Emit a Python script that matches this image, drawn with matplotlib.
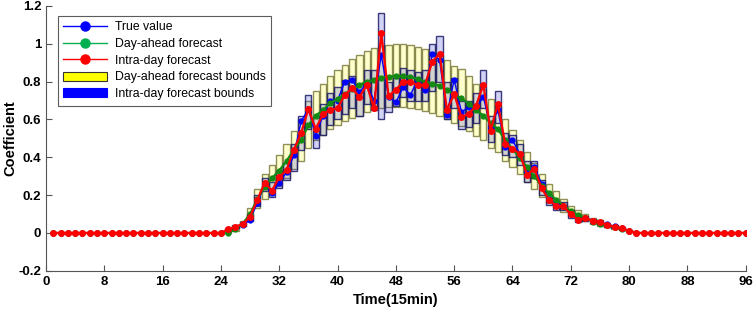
import numpy as np
import matplotlib
matplotlib.use("Agg")
import matplotlib.pyplot as plt
from matplotlib.lines import Line2D
from matplotlib.patches import Patch

plt.rcParams['font.family'] = ['Liberation Sans', 'DejaVu Sans']

time = np.arange(1, 97)
zeros_before = [0.0] * 24
zeros_after = [0.0] * 15

# index 25..81
true_mid = [0.01, 0.025, 0.04, 0.07, 0.16, 0.25, 0.21, 0.265, 0.32, 0.41,
            0.59, 0.655, 0.515, 0.62, 0.70, 0.70, 0.80, 0.81, 0.745, 0.79,
            0.70, 0.94, 0.72, 0.69, 0.77, 0.73, 0.81, 0.755, 0.945, 0.915,
            0.625, 0.81, 0.64, 0.665, 0.66, 0.72, 0.56, 0.65, 0.455, 0.49,
            0.42, 0.33, 0.35, 0.26, 0.18, 0.15, 0.14, 0.10, 0.075, 0.08,
            0.065, 0.055, 0.045, 0.035, 0.025, 0.012, 0.0]
dayahead_mid = [0.0, 0.02, 0.05, 0.10, 0.18, 0.245, 0.29, 0.33, 0.38, 0.44,
                0.49, 0.57, 0.62, 0.65, 0.686, 0.71, 0.734, 0.76, 0.783, 0.80,
                0.81, 0.82, 0.827, 0.83, 0.83, 0.824, 0.815, 0.80, 0.79, 0.778,
                0.757, 0.73, 0.713, 0.683, 0.65, 0.62, 0.58, 0.55, 0.49, 0.445,
                0.395, 0.348, 0.30, 0.25, 0.21, 0.175, 0.145, 0.115, 0.095, 0.08,
                0.06, 0.05, 0.04, 0.03, 0.02, 0.01, 0.0]
intraday_mid = [0.02, 0.033, 0.048, 0.086, 0.175, 0.266, 0.224, 0.295, 0.333, 0.44,
                0.527, 0.655, 0.55, 0.628, 0.65, 0.66, 0.73, 0.766, 0.718, 0.783,
                0.66, 1.057, 0.725, 0.757, 0.80, 0.80, 0.78, 0.783, 0.906, 0.947,
                0.65, 0.735, 0.612, 0.63, 0.672, 0.783, 0.541, 0.683, 0.47, 0.445,
                0.42, 0.307, 0.34, 0.236, 0.175, 0.143, 0.14, 0.10, 0.07, 0.078,
                0.065, 0.06, 0.042, 0.033, 0.025, 0.012, 0.0]
da_upper_mid = [0.005, 0.03, 0.065, 0.13, 0.23, 0.31, 0.36, 0.41, 0.47, 0.54,
                0.60, 0.70, 0.75, 0.79, 0.83, 0.86, 0.89, 0.92, 0.94, 0.96,
                0.975, 0.99, 0.995, 1.0, 1.0, 0.995, 0.985, 0.97, 0.955, 0.94,
                0.915, 0.885, 0.865, 0.83, 0.79, 0.76, 0.71, 0.67, 0.60, 0.545,
                0.49, 0.43, 0.37, 0.31, 0.26, 0.22, 0.18, 0.145, 0.12, 0.10,
                0.077, 0.064, 0.052, 0.04, 0.027, 0.014, 0.002]
da_lower_mid = [0.0, 0.012, 0.035, 0.07, 0.13, 0.18, 0.22, 0.25, 0.29, 0.34,
                0.38, 0.45, 0.49, 0.52, 0.55, 0.57, 0.59, 0.61, 0.62, 0.64,
                0.65, 0.66, 0.665, 0.665, 0.665, 0.66, 0.655, 0.645, 0.635, 0.62,
                0.60, 0.58, 0.565, 0.54, 0.51, 0.49, 0.45, 0.43, 0.38, 0.35,
                0.31, 0.27, 0.23, 0.19, 0.16, 0.135, 0.11, 0.09, 0.073, 0.062,
                0.046, 0.038, 0.03, 0.022, 0.014, 0.006, 0.0]
id_upper_mid = [0.025, 0.04, 0.06, 0.10, 0.20, 0.29, 0.27, 0.33, 0.37, 0.47,
                0.62, 0.73, 0.62, 0.68, 0.74, 0.77, 0.81, 0.83, 0.79, 0.86,
                0.86, 1.16, 0.80, 0.82, 0.87, 0.86, 0.85, 0.86, 1.00, 1.04,
                0.80, 0.82, 0.70, 0.70, 0.74, 0.86, 0.62, 0.75, 0.53, 0.52,
                0.47, 0.38, 0.38, 0.28, 0.20, 0.17, 0.165, 0.12, 0.085, 0.09,
                0.076, 0.068, 0.05, 0.04, 0.03, 0.016, 0.003]
id_lower_mid = [0.012, 0.025, 0.035, 0.065, 0.14, 0.22, 0.19, 0.24, 0.28, 0.33,
                0.44, 0.55, 0.45, 0.52, 0.57, 0.60, 0.63, 0.66, 0.62, 0.68,
                0.65, 0.60, 0.64, 0.67, 0.72, 0.70, 0.70, 0.70, 0.75, 0.80,
                0.60, 0.66, 0.55, 0.56, 0.58, 0.66, 0.48, 0.58, 0.41, 0.40,
                0.36, 0.27, 0.29, 0.20, 0.15, 0.12, 0.12, 0.08, 0.058, 0.063,
                0.054, 0.048, 0.034, 0.026, 0.018, 0.008, 0.0]

true_value = np.array(zeros_before + true_mid + zeros_after)
dayahead = np.array(zeros_before + dayahead_mid + zeros_after)
intraday = np.array(zeros_before + intraday_mid + zeros_after)
da_upper = np.array(zeros_before + da_upper_mid + zeros_after)
da_lower = np.array(zeros_before + da_lower_mid + zeros_after)
id_upper = np.array(zeros_before + id_upper_mid + zeros_after)
id_lower = np.array(zeros_before + id_lower_mid + zeros_after)

xticks = [0, 8, 16, 24, 32, 40, 48, 56, 64, 72, 80, 88, 96]
yticks = [-0.2, 0, 0.2, 0.4, 0.6, 0.8, 1.0, 1.2]
ytick_labels = ['-0.2', '0', '0.2', '0.4', '0.6', '0.8', '1', '1.2']

fig = plt.figure(figsize=(7.54, 3.12), dpi=100)
ax = fig.add_axes([0.061, 0.132, 0.928, 0.849])

mask = (da_upper - da_lower) > 0
ax.bar(time[mask], (da_upper - da_lower)[mask], bottom=da_lower[mask], width=0.85,
       facecolor=(1.0, 1.0, 0.55, 0.45), edgecolor=(0.45, 0.45, 0.2, 0.8), linewidth=1.0, zorder=1)
mask2 = (id_upper - id_lower) > 0
ax.bar(time[mask2], (id_upper - id_lower)[mask2], bottom=id_lower[mask2], width=0.85,
       facecolor=(0.2, 0.2, 0.85, 0.22), edgecolor=(0.1, 0.1, 0.4, 0.85), linewidth=1.0, zorder=2)

ax.plot(time, true_value, color='#0000ff', lw=1.0, marker='o', ms=3.5, zorder=3)
ax.plot(time, dayahead, color='#138a13', lw=1.6, marker='o', ms=3.5, zorder=4)
ax.plot(time, intraday, color='#ff0000', lw=1.6, marker='o', ms=4, zorder=5)

ax.set_xlim(0, 96)
ax.set_ylim(-0.2, 1.2)
ax.set_xticks(xticks)
ax.set_yticks(yticks)
ax.set_yticklabels(ytick_labels)
for lab in ax.get_xticklabels() + ax.get_yticklabels():
    lab.set_fontweight('bold')
ax.tick_params(direction='in', length=4, labelsize=9.5, width=0.8, color='#555555')
ax.spines['top'].set_visible(False)
ax.spines['right'].set_visible(False)
for s in ['left', 'bottom']:
    ax.spines[s].set_color('#555555')
    ax.spines[s].set_linewidth(0.8)

ax.set_xlabel('Time(15min)', fontsize=10.5, fontweight='bold', labelpad=4)
ax.set_ylabel('Coefficient', fontsize=10.5, fontweight='bold', labelpad=0.5)

handles = [
    Line2D([], [], color='#0000ff', lw=1.0, marker='o', ms=6.5),
    Line2D([], [], color='#00b050', lw=1.0, marker='o', ms=6.5),
    Line2D([], [], color='#ff0000', lw=1.0, marker='o', ms=6.5),
    Patch(facecolor='#ffff00', edgecolor='#333333', linewidth=0.8),
    Patch(facecolor='#0000ff', edgecolor='#0000ff', linewidth=0.8),
]
labels = ['True value', 'Day-ahead forecast', 'Intra-day forecast',
          'Day-ahead forecast bounds', 'Intra-day forecast bounds']
leg = ax.legend(handles, labels, loc='upper left', bbox_to_anchor=(0.017, 0.962),
                fontsize=8.8, frameon=True, fancybox=False, borderpad=0.45,
                labelspacing=0.38, handlelength=3.6, handleheight=0.8,
                handletextpad=0.6, borderaxespad=0)
leg.get_frame().set_edgecolor('#333333')
leg.get_frame().set_linewidth(0.8)

fig.savefig('out.png', dpi=100)
